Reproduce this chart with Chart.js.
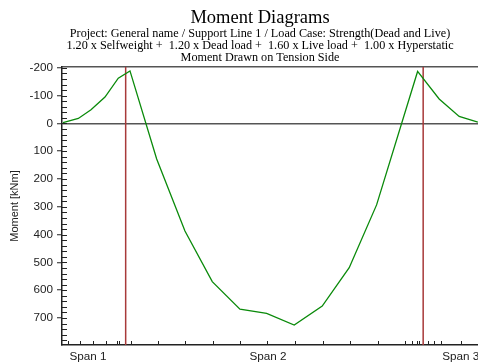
<!DOCTYPE html>
<html><head><meta charset="utf-8">
<script src="https://cdn.jsdelivr.net/npm/chart.js@4/dist/chart.umd.min.js"></script>
<style>html,body{margin:0;padding:0;background:#fff;overflow:hidden}#wrap{width:478px;height:364px;position:relative}</style>
</head><body><div id="wrap"><canvas id="c" width="478" height="364"></canvas></div>
<script>
// ---- data ----
const titleText = "Moment Diagrams";
const subtitleLines = [
  "Project: General name / Support Line 1 / Load Case: Strength(Dead and Live)",
  "1.20 x Selfweight +  1.20 x Dead load +  1.60 x Live load +  1.00 x Hyperstatic",
  "Moment Drawn on Tension Side"
];
const yAxisTitle = "Moment [kNm]";
const positions = [0.03, 0.494, 0.879, 1.303, 1.706, 2.061, 2.870, 3.727, 4.555, 5.394, 6.203, 7.039, 7.888, 8.706, 9.536, 10.779, 11.433, 12.039, 12.606];
const moments   = [-3, -18, -49, -95, -163, -189, 128, 387, 569, 668, 683, 725, 657, 519, 293, -187, -88, -25, -5];
const supportPositions = [1.930, 10.948];
const sectionTicks = [0.173, 0.545, 0.948, 1.324, 1.682, 1.727, 2.091, 2.918, 3.727, 4.567, 5.394, 6.221, 7.061, 7.900, 8.727, 9.567, 10.394, 10.615, 10.758, 10.818, 11.082, 11.273, 11.485, 12.082];
const spanLabels = ["Span 1", "Span 2", "Span 3"];
const spanLabelPositions = [0.788, 6.242, 12.09];
const yTickValues = [-200, -100, 0, 100, 200, 300, 400, 500, 600, 700];
const yMinorStep = 20;
const X_MIN = 0, X_MAX = 12.61, Y_MIN = -203, Y_MAX = 797;

const SANS = '"Liberation Sans", Arial, sans-serif';
const SERIF = '"Liberation Serif", "Times New Roman", serif';

const decor = {
  id: 'decor',
  afterDraw(chart) {
    const ctx = chart.ctx, xs = chart.scales.x, ys = chart.scales.y, a = chart.chartArea;
    ctx.save();
    ctx.strokeStyle = '#222'; ctx.lineWidth = 1;
    sectionTicks.forEach(v => {
      const px = Math.round(xs.getPixelForValue(v)) + 0.5;
      ctx.beginPath(); ctx.moveTo(px, a.bottom); ctx.lineTo(px, a.bottom - 4); ctx.stroke();
    });
    for (let v = Math.ceil(Y_MIN / yMinorStep) * yMinorStep; v <= Y_MAX; v += yMinorStep) {
      const py = Math.round(ys.getPixelForValue(v)) + 0.5;
      ctx.beginPath(); ctx.moveTo(a.left, py); ctx.lineTo(a.left + 5, py); ctx.stroke();
    }
    ctx.fillStyle = '#000'; ctx.textAlign = 'center'; ctx.textBaseline = 'middle';
    ctx.font = '18.5px ' + SERIF;
    ctx.fillText(titleText, 260, 18);
    ctx.font = '12.2px ' + SERIF;
    subtitleLines.forEach((t, i) => ctx.fillText(t, 260, 33.5 + i * 12));
    ctx.restore();
  }
};

const datasets = [{
  data: positions.map((x, i) => ({x: x, y: moments[i]})),
  borderColor: '#0a8a0a', borderWidth: 1.3, pointRadius: 0, showLine: true, fill: false, tension: 0
}];
supportPositions.forEach(s => datasets.push({
  data: [{x: s, y: Y_MIN}, {x: s, y: Y_MAX}],
  borderColor: '#a83a3a', borderWidth: 1.5, pointRadius: 0, showLine: true, fill: false
}));

new Chart(document.getElementById('c'), {
  type: 'scatter',
  data: {datasets: datasets},
  options: {
    responsive: false, animation: false, devicePixelRatio: 1,
    layout: {padding: {top: 67, left: 0, right: 0, bottom: 0}},
    plugins: {legend: {display: false}, tooltip: {enabled: false}, title: {display: false}},
    scales: {
      x: {
        type: 'linear', position: 'bottom', min: X_MIN, max: X_MAX,
        afterBuildTicks: s => { s.ticks = spanLabelPositions.map(v => ({value: v})); },
        afterFit: s => { s.height = 19; s.paddingLeft = 0; s.paddingRight = 0; },
        ticks: {autoSkip: false, maxRotation: 0, minRotation: 0, padding: 5, color: '#222',
          font: {family: SANS, size: 11.7}, callback: (v, i) => spanLabels[i]},
        grid: {drawOnChartArea: false, drawTicks: false},
        border: {display: true, color: '#222', width: 1.5}
      },
      x2: {
        type: 'linear', position: 'top', min: X_MIN, max: X_MAX,
        afterFit: s => { s.height = 0; s.paddingLeft = 0; s.paddingRight = 0; },
        ticks: {display: false},
        grid: {drawOnChartArea: false, drawTicks: false},
        border: {display: true, color: '#555', width: 1.5}
      },
      y: {
        type: 'linear', position: 'left', reverse: true, min: Y_MIN, max: Y_MAX,
        afterBuildTicks: s => { s.ticks = yTickValues.map(v => ({value: v})); },
        afterFit: s => { s.width = 62; },
        ticks: {padding: 4, color: '#222', font: {family: SANS, size: 11.7}, callback: v => String(v)},
        grid: {
          drawOnChartArea: true, drawTicks: true, tickLength: 5, tickColor: '#222', tickWidth: 1,
          color: c => (c.tick && c.tick.value === 0) ? '#555' : 'rgba(0,0,0,0)', lineWidth: 1.5
        },
        border: {display: true, color: '#222', width: 1.5},
        title: {display: true, text: yAxisTitle, color: '#222', font: {family: SANS, size: 11}, padding: {top: 8, bottom: 0}}
      }
    }
  },
  plugins: [decor]
});
</script>
</body></html>
